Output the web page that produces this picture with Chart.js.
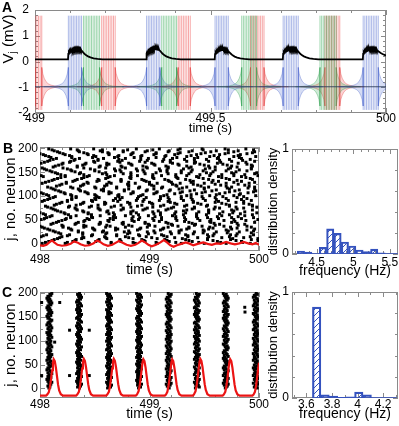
<!DOCTYPE html>
<html>
<head>
<meta charset="utf-8">
<script src="https://cdn.jsdelivr.net/npm/chart.js@4.4.1/dist/chart.umd.min.js"></script>
<style>
body { margin: 0; background: #fff; }
#fig { position: relative; width: 399px; height: 426px; overflow: hidden; font-family: 'Liberation Sans', Arial, sans-serif; }
#fig canvas { position: absolute; }
.lbl { position: absolute; font-weight: bold; font-size: 14px; }
</style>
</head>
<body>
<div id="fig">
  <canvas id="cA" width="399" height="136" style="left:0;top:0"></canvas>
  <canvas id="cB" width="272" height="144" style="left:0;top:136px"></canvas>
  <canvas id="cBh" width="137" height="144" style="left:262px;top:136px"></canvas>
  <canvas id="cC" width="272" height="148" style="left:0;top:278px"></canvas>
  <canvas id="cCh" width="137" height="148" style="left:262px;top:278px"></canvas>
  <div class="lbl" style="left:2px;top:-1px">A</div>
  <div class="lbl" style="left:3px;top:140px">B</div>
  <div class="lbl" style="left:2px;top:284px">C</div>
</div>
<script>
// ---------- panel A: voltage traces, times in ms after 499 s ----------
const ticksAx = [499, 499.5, 500];
const ticksAy = [-2, -1, 0, 1, 2];
const spikeLow = -1.88, spikeHigh = 1.78, restLevel = -0.98;

const blueSpikes = [
  [95, 99.7, 104.4, 109.1, 113.8, 118.5, 123.2, 127.9, 132.6],
  [318, 322.7, 327.4, 332.1, 336.8, 341.5, 346.2, 350.9, 355.6],
  [513, 517.7, 522.4, 527.1, 531.8, 536.5, 541.2, 545.9, 550.6],
  [707, 711.8, 716.6, 721.4, 726.2, 731, 735.8, 740.6, 745.4, 750],
  [935, 939.8, 944.6, 949.4, 954.2, 959, 963.8, 968.6, 973.4, 978]
];
const greenSpikes = [
  [138, 142.6, 147.2, 151.8, 156.4, 161, 165.6, 170.2, 174.8, 179.4, 184],
  [361, 365.7, 370.4, 375.1, 379.8, 384.5, 389.2, 393.9, 398.6, 403.3],
  [589, 593.7, 598.4, 603.1, 607.8, 612.5, 617.2, 621.9, 626.6, 631.3],
  [812, 816.6, 821.2, 825.8, 830.4, 835, 839.6, 844.2, 848.8, 853.4, 858]
];
const redSpikes = [
  [0.5, 5.2, 9.9, 14.6, 19.3],
  [190, 194.8, 199.6, 204.4, 209.2, 214, 218.8, 223.6, 228.4],
  [408, 412.9, 417.8, 422.7, 427.6, 432.5, 437.4, 442.3],
  [614, 618.8, 623.6, 628.4, 633.2, 638, 642.8, 647.6, 652.4],
  [826, 830.7, 835.4, 840.1, 844.8, 849.5, 854.2, 858.9, 863.6, 868.3]
];
// envelope of the sub-threshold ringing next to a burst: distance (ms) from the burst edge, half amplitude (mV)
const lobeDist = [0, 3, 7, 12, 18, 26, 36, 50, 70];
const lobeAmp = [0.75, 0.5, 0.33, 0.2, 0.12, 0.065, 0.032, 0.013, 0.004];

const blackTrace = [
  [0,0.08],[94,0.08],[95,0.3],[96.5,0.37],[98,0.34],[99.5,0.41],[101,0.37],[102.5,0.44],[104,0.4],[105.5,0.47],[107,0.42],[108.5,0.49],[110,0.44],[111.5,0.51],[113,0.45],[114.5,0.52],[116,0.46],[117.5,0.52],[119,0.46],[120.5,0.52],[122,0.46],[123.5,0.52],[125,0.46],[126.5,0.51],[128,0.45],[129.5,0.5],[131,0.44],[133,0.42],[136,0.37],[140,0.31],[145,0.25],[151,0.2],[158,0.16],[167,0.125],[178,0.1],[192,0.085],[212,0.08],
  [317,0.08],[318,0.31],[319.5,0.37],[321,0.35],[322.5,0.42],[324,0.38],[325.5,0.45],[327,0.41],[328.5,0.48],[330,0.43],[331.5,0.5],[333,0.45],[334.5,0.52],[336,0.46],[337.5,0.53],[339,0.47],[340.5,0.53],[342,0.47],[343.5,0.53],[345,0.47],[346.5,0.52],[348,0.46],[349.5,0.51],[351,0.45],[352.5,0.5],[354,0.44],[356,0.42],[359,0.37],[363,0.31],[368,0.25],[374,0.2],[381,0.16],[390,0.125],[401,0.1],[415,0.085],[435,0.08],
  [512,0.08],[513,0.29],[514.5,0.36],[516,0.33],[517.5,0.4],[519,0.36],[520.5,0.43],[522,0.39],[523.5,0.46],[525,0.41],[526.5,0.48],[528,0.43],[529.5,0.5],[531,0.44],[532.5,0.5],[534,0.45],[535.5,0.51],[537,0.45],[538.5,0.5],[540,0.44],[541.5,0.5],[543,0.44],[544.5,0.49],[546,0.43],[547.5,0.48],[549,0.42],[551,0.4],[554,0.35],[558,0.3],[563,0.24],[569,0.19],[576,0.15],[585,0.12],[596,0.1],[610,0.085],[630,0.08],
  [706,0.08],[707,0.3],[708.5,0.37],[710,0.34],[711.5,0.41],[713,0.37],[714.5,0.44],[716,0.4],[717.5,0.47],[719,0.42],[720.5,0.49],[722,0.44],[723.5,0.51],[725,0.45],[726.5,0.52],[728,0.46],[729.5,0.52],[731,0.46],[732.5,0.52],[734,0.46],[735.5,0.52],[737,0.46],[738.5,0.52],[740,0.46],[741.5,0.51],[743,0.45],[744.5,0.5],[746,0.44],[748,0.42],[751,0.37],[755,0.31],[760,0.25],[766,0.2],[773,0.16],[782,0.125],[793,0.1],[807,0.085],[827,0.08],
  [934,0.08],[935,0.3],[936.5,0.37],[938,0.34],[939.5,0.41],[941,0.37],[942.5,0.44],[944,0.4],[945.5,0.47],[947,0.42],[948.5,0.49],[950,0.44],[951.5,0.51],[953,0.45],[954.5,0.52],[956,0.46],[957.5,0.52],[959,0.46],[960.5,0.52],[962,0.46],[963.5,0.52],[965,0.46],[966.5,0.52],[968,0.46],[969.5,0.51],[971,0.45],[972.5,0.5],[974,0.44],[976,0.42],[980,0.38],[985,0.33],[990,0.29],[1000,0.23]
];
const restTrace = [[0, restLevel], [1000, restLevel]];

// ---------- panel B: asynchronous state ----------
const ticksRasterX = [498, 499, 500];
const ticksRasterY = [0, 50, 100, 150, 200];
// spike times per neuron row (units of 10 ms after 498 s), rows are neurons 1, 3, 5, ...
const rasterB = [
  [2,23,45,65,87,107,129,150,170,192],[5,25,44,65,85,106,124,145,165,185],[8,30,51,74,96,118,139,162,184],[11,32,53,73,95,116,136,158,179,199],
  [13,33,54,73,93,114,133,153,174,193],[16,38,61,85,107,130,153,176,199],[18,40,60,81,102,123,144,166,186],[1,20,39,59,78,97,116,135,154,173,192],
  [3,25,47,70,91,113,135,158,179],[6,27,48,70,90,111,133,153,174,195],[19,39,60,80,99,120,140,159,180],[17,39,61,82,105,127,149,171,193],
  [14,35,57,77,98,119,141,161,182],[12,35,58,81,104,127,150,172,195],[9,29,50,69,89,110,129,149,170,189],[7,28,49,71,91,112,134,154,175,196],
  [4,26,48,69,92,113,136,158,180],[2,21,40,60,78,98,117,136,155,174,193],[0,21,42,64,84,105,126,148,168,189],[20,40,61,81,100,121,141,160,181],
  [10,32,54,76,99,120,142,164,187],[12,33,55,75,96,117,139,159,180],[15,35,55,76,96,115,136,156,175,196],[17,40,63,86,109,132,155,178],
  [20,41,62,84,104,125,146,168,188],[1,23,45,67,90,111,133,156,177,199],[4,24,43,64,84,103,124,144,163,184],[6,28,48,69,91,111,132,153,175,195],
  [9,28,47,67,85,105,124,143,162,181],[11,33,55,78,99,121,143,166,187],[5,26,47,68,90,110,131,152,173,194],[3,23,44,63,83,104,123,143,164,183],
  [0,22,44,67,88,110,133,154,176,198],[19,40,61,83,103,124,145,167,187],[16,39,62,85,108,131,154,177],[14,34,55,74,94,115,134,154,175,194],
  [12,33,54,76,96,117,139,159,180],[10,32,53,76,98,120,141,164,186],[7,26,45,65,83,103,122,141,160,179,198],[5,27,47,68,89,110,132,152,173,194],
  [13,33,53,74,93,113,134,153,173,194],[15,37,59,82,103,125,147,170,191],[18,39,60,82,102,123,144,166,186],[20,40,59,80,100,119,140,160,179],
  [2,25,48,71,94,117,140,163,186],[4,25,47,67,88,109,131,151,172,193],[7,29,51,73,95,118,139,161,184],[9,29,50,69,89,110,129,149,170,189],
  [12,33,54,75,97,117,138,160,180],[14,33,52,72,90,110,129,148,167,186],[8,29,51,71,92,113,134,155,177,197],[6,28,50,72,94,116,138,161,182],
  [3,23,44,63,83,104,123,143,164,183],[1,22,43,65,85,106,128,148,169,190],[19,41,63,85,107,130,151,173,195],[17,37,58,77,97,118,137,157,178,197],
  [14,36,56,77,98,119,141,161,182],[12,35,58,81,104,127,150,173,196],[10,30,51,70,90,111,130,150,171,190],[7,28,50,70,91,112,134,154,175,196],
  [15,37,59,81,104,125,147,170,191],[18,39,61,81,102,124,144,165,187],[20,40,61,80,100,121,140,160,181],[2,24,44,65,87,107,128,150,170,191],
  [5,24,43,63,81,100,120,138,157,177,196],[8,30,52,74,97,118,140,163,184],[11,32,54,74,95,117,137,158,180],[13,34,53,74,93,114,133,154,173,194],
  [16,38,60,83,104,126,149,170,192],[19,40,62,82,103,125,145,166,188],[3,23,43,64,83,103,124,143,163,184],[1,23,45,68,89,111,134,155,177,199],
  [19,40,61,83,103,124,146,166,187],[16,36,57,76,96,117,136,156,177,196],[14,37,60,83,106,129,152,175,198],[11,32,54,74,95,116,138,158,179],
  [9,29,50,69,89,110,129,149,170,189],[6,28,50,73,94,116,139,160,182],[4,25,46,68,88,109,131,151,172,193],[2,21,40,60,78,98,117,136,155,174,193],
  [12,34,54,75,97,117,138,160,180],[14,34,55,74,94,115,134,154,175,194],[17,39,61,84,105,127,150,171,193],[20,41,63,83,104,126,146,167,189],
  [1,21,42,61,81,102,121,141,162,181],[4,27,50,73,96,119,142,165,188],[7,28,49,71,91,112,134,154,175,196],[9,31,53,75,98,119,141,164,185],
  [12,32,53,72,92,113,132,152,173,192],[15,36,58,78,99,121,141,162,184],[10,29,48,68,86,106,125,144,163,182],[8,29,51,71,92,114,134,155,177,197],
  [5,27,49,72,93,115,138,159,181],[3,23,44,63,83,104,123,143,164,183],[0,21,43,63,84,106,126,147,169,189],[18,40,62,85,106,128,151,172,194],
  [16,36,57,76,96,117,136,156,177,196],[13,35,55,76,98,118,139,161,181],[11,34,57,80,103,126,149,172,195],[8,28,49,68,88,109,128,148,169,188]
];
const activityB = [
  [498,-3],[498.03,-4],[498.06,-2],[498.09,4],[498.11,7],[498.13,3],[498.16,-2],[498.2,-4],[498.24,-3],[498.28,0],[498.31,5],[498.34,3],
  [498.37,-1],[498.41,-4],[498.45,-3],[498.49,1],[498.52,7],[498.55,4],[498.58,-1],[498.62,-4],[498.66,-2],[498.69,2],[498.72,6],[498.75,3],
  [498.79,-2],[498.83,-4],[498.87,-2],[498.9,2],[498.93,7],[498.96,3],[498.99,-2],[499.02,-5],[499.06,-2],[499.1,3],[499.13,8],[499.16,3],
  [499.19,-3],[499.22,-6],[499.25,-3],[499.29,0],[499.33,3],[499.36,1],[499.4,-3],[499.44,0],[499.49,3],[499.53,0],[499.57,-2],[499.61,1],
  [499.65,0],[499.7,4],[499.74,1],[499.78,-1],[499.82,1],[499.86,4],[499.9,1],[499.94,-1],[499.97,2],[500,-2]
];
const histBCenters = [4.285,4.385,4.485,4.585,4.685,4.785,4.885,4.985,5.085,5.185,5.285,5.385,5.485,5.585];
const histBDensity = [0.028,0.019,0,0.063,0.24,0.196,0.114,0.076,0.038,0.022,0.047,0.01,0,0];
const ticksHistBx = [4.5, 5, 5.5];
const ticksHistY = [0, 1];

// ---------- panel C: synchronous state ----------
// burst onsets (s) and, per burst, one digit per neuron row = spike delay in 9 ms steps
const burstStartsC = [498.045, 498.316, 498.59, 498.864, 499.135, 499.392, 499.656, 499.93];
const burstDelaysC = [
  '4535647352 4635473652 4356473562 4536475346 2537463526 4537463524 6537462534 6753426357 4635243657 4635243657',
  '5364735246 3574625346 5374635246 3547365243 6547352463 5746352436 5473625437 6452364753 4625347365 2436574635',
  '3647352465 3746253647 5362453746 3524637546 2354736452 4637542635 4736524357 4635247365 3426547365 2453746352',
  '4653743526 4375364253 7463524637 5426354736 4526374635 2463754362 5374635247 3652436574 6352463754 3625473652',
  '5436274536 4725346375 2463547362 5437462536 4736254637 5246357436 2547365243 6574635246 3754362547 3652436574',
  '3746352647 3546273645 3726453746 2536475326 4735462537 4635274636 5247365423 6574635246 3754236547 3625436574',
  '4563724635 7462534673 5243657463 5247365243 6574632546 3754263547 3625436574 6352463754 2635473652 4365746352',
  '6354726453 7462536473 5246375462 5347362546 3754625347 3625463754 6235473652 4365746325 4637542635 4736524365'
];
const strayC = [[498.015,180],[498.18,180],[498.27,122],[498.45,122],[498.015,27],[498.27,27],[498.45,27],[498.134,97],[499.87,170],[499.872,160]];
const activityC = [
  [498,-15],[498.055,-15],
  [498.065,-13],[498.08,-8],[498.09,2],[498.1,18],[498.11,38],[498.118,54],[498.125,61],[498.135,57],[498.145,44],[498.155,26],[498.165,8],[498.175,-4],[498.19,-12],[498.21,-15],
  [498.33,-15],[498.34,-13],[498.355,-7],[498.365,4],[498.375,22],[498.385,42],[498.392,56],[498.4,62],[498.41,58],[498.42,45],[498.43,27],[498.44,9],[498.45,-3],[498.465,-12],[498.485,-15],
  [498.604,-15],[498.614,-13],[498.629,-7],[498.639,4],[498.649,22],[498.659,42],[498.666,56],[498.674,62],[498.684,58],[498.694,45],[498.704,27],[498.714,9],[498.724,-3],[498.739,-12],[498.759,-15],
  [498.875,-15],[498.885,-13],[498.9,-6],[498.91,5],[498.92,23],[498.93,43],[498.937,56],[498.944,61],[498.954,57],[498.964,44],[498.974,26],[498.984,8],[498.994,-4],[499.009,-12],[499.03,-15],
  [499.14,-15],[499.15,-13],[499.163,-7],[499.173,4],[499.183,21],[499.193,41],[499.2,55],[499.207,61],[499.217,57],[499.227,44],[499.237,27],[499.247,9],[499.257,-3],[499.272,-12],[499.292,-15],
  [499.395,-15],[499.405,-13],[499.42,-6],[499.43,5],[499.44,23],[499.45,43],[499.457,56],[499.464,62],[499.474,58],[499.484,45],[499.494,27],[499.504,9],[499.514,-3],[499.529,-12],[499.55,-15],
  [499.668,-15],[499.678,-13],[499.692,-7],[499.702,4],[499.712,22],[499.722,42],[499.729,55],[499.737,61],[499.747,57],[499.757,44],[499.767,26],[499.777,8],[499.787,-4],[499.802,-12],[499.822,-15],
  [499.94,-15],[499.95,-13],[499.963,-7],[499.973,5],[499.983,23],[499.993,43],[500,54]
];
const histCCenters = [3.68,3.746,3.812,3.878,3.944,4.01,4.076,4.142,4.208,4.274];
const histCDensity = [0.858,0.03,0.018,0.006,0.012,0.055,0.03,0,0,0];
const ticksHistCx = [3.6, 3.8, 4, 4.2];

// ---------- helpers ----------
const FONT = "'Liberation Sans', Arial, Helvetica, sans-serif";
Chart.defaults.font.family = FONT;
Chart.defaults.font.size = 12;
Chart.defaults.color = '#000';
Chart.defaults.animation = false;
const FRAME = '#8a8a8a';
const BLUE = 'rgb(52,82,190)';

function axis(min, max, labels, o) {
  return {
    type: 'linear', min: min, max: max, offset: false,
    grid: { display: false, drawTicks: false },
    border: { display: false },
    afterBuildTicks: s => { s.ticks = labels.map(v => ({ value: v })); },
    ticks: { autoSkip: false, maxRotation: 0, padding: o.pad, callback: v => String(v) },
    title: o.title ? { display: true, text: o.title, font: { size: o.tsize }, padding: o.tpad } : { display: false },
    afterFit: s => {
      if (o.w != null) s.width = o.w;
      if (o.h != null) s.height = o.h;
      s.paddingLeft = s.paddingRight = s.paddingTop = s.paddingBottom = 0;
    }
  };
}

// box frame with small inward ticks on all four sides
function frame(x0, xs, y0, ys, xMajor, yMajor, extra) {
  return {
    id: 'frame',
    beforeDatasetsDraw(chart) {
      const { ctx, chartArea: a, scales: { x, y } } = chart;
      ctx.save();
      ctx.strokeStyle = FRAME;
      ctx.lineWidth = 1;
      ctx.strokeRect(Math.round(a.left) + 0.5, Math.round(a.top) + 0.5, Math.round(a.width) - 1, Math.round(a.height) - 1);
      ctx.beginPath();
      for (let i = 0; ; i++) {
        const v = x0 + i * xs;
        if (v > x.max + 1e-9) break;
        if (v < x.min - 1e-9) continue;
        const p = Math.round(x.getPixelForValue(v)) + 0.5;
        const L = xMajor.some(m => Math.abs(m - v) < 1e-6) ? 5 : 3;
        ctx.moveTo(p, a.bottom); ctx.lineTo(p, a.bottom - L);
        ctx.moveTo(p, a.top); ctx.lineTo(p, a.top + L);
      }
      for (let i = 0; ; i++) {
        const v = y0 + i * ys;
        if (v > y.max + 1e-9) break;
        if (v < y.min - 1e-9) continue;
        const p = Math.round(y.getPixelForValue(v)) + 0.5;
        const L = yMajor.some(m => Math.abs(m - v) < 1e-6) ? 5 : 3;
        ctx.moveTo(a.left, p); ctx.lineTo(a.left + L, p);
        ctx.moveTo(a.right, p); ctx.lineTo(a.right - L, p);
      }
      ctx.stroke();
      ctx.restore();
    },
    afterDraw(chart) { if (extra) extra(chart.ctx); }
  };
}

function hatch(color) {
  const c = document.createElement('canvas');
  c.width = 6; c.height = 6;
  const g = c.getContext('2d');
  g.strokeStyle = color; g.lineWidth = 1;
  g.beginPath();
  g.moveTo(0, 6); g.lineTo(6, 0);
  g.moveTo(-1, 1); g.lineTo(1, -1);
  g.moveTo(5, 7); g.lineTo(7, 5);
  g.stroke();
  return g.createPattern(c, 'repeat');
}

const msToS = ms => 499 + ms / 1000;

// ---------- panel A ----------
function spikeLines(trains) {
  const d = [];
  trains.forEach(tr => tr.forEach(t => {
    d.push({ x: msToS(t), y: spikeLow }, { x: msToS(t), y: spikeHigh }, { x: msToS(t), y: null });
  }));
  return d;
}
function lobe(edge, dir) {
  const up = [], lo = [];
  lobeDist.forEach((dd, i) => {
    up.push({ x: msToS(edge + dir * dd), y: restLevel + lobeAmp[i] });
    lo.push({ x: msToS(edge + dir * dd), y: restLevel - lobeAmp[i] });
  });
  return up.reverse().concat(lo);
}
const colorsA = [
  { trains: blueSpikes, line: 'rgba(70,100,205,0.45)', fill: 'rgba(70,100,205,0.22)', edge: 'rgba(60,90,200,0.55)' },
  { trains: greenSpikes, line: 'rgba(40,165,75,0.45)', fill: 'rgba(40,165,75,0.22)', edge: 'rgba(30,150,65,0.55)' },
  { trains: redSpikes, line: 'rgba(235,60,60,0.45)', fill: 'rgba(235,60,60,0.22)', edge: 'rgba(225,45,45,0.55)' }
];
const dsA = [];
dsA.push({ data: blackTrace.map(p => ({ x: msToS(p[0]), y: p[1] })), borderColor: '#000', borderWidth: 1.8, order: 0 });
dsA.push({ data: restTrace.map(p => ({ x: msToS(p[0]), y: p[1] })), borderColor: 'rgba(40,55,85,0.85)', borderWidth: 1.2, order: 1 });
colorsA.forEach(c => {
  dsA.push({ data: spikeLines(c.trains), borderColor: c.line, borderWidth: 1, order: 2 });
  c.trains.forEach(tr => {
    [lobe(tr[0], -1), lobe(tr[tr.length - 1], 1)].forEach(pts => {
      dsA.push({ data: pts, borderColor: c.edge, borderWidth: 0.6, backgroundColor: c.fill, fill: 'shape', order: 3 });
    });
  });
});

function drawVjTitle(ctx) {
  ctx.save();
  ctx.translate(9, 39);
  ctx.rotate(-Math.PI / 2);
  ctx.fillStyle = '#000';
  ctx.textBaseline = 'middle';
  ctx.font = '15px ' + FONT;
  const w1 = ctx.measureText('V').width, w3 = ctx.measureText(' (mV)').width;
  ctx.font = '10px ' + FONT;
  const w2 = ctx.measureText('j').width;
  let x = -(w1 + w2 + w3) / 2;
  ctx.font = '15px ' + FONT; ctx.fillText('V', x, 0); x += w1;
  ctx.font = '10px ' + FONT; ctx.fillText('j', x, 4); x += w2;
  ctx.font = '15px ' + FONT; ctx.fillText(' (mV)', x, 0);
  ctx.restore();
}

new Chart(document.getElementById('cA'), {
  type: 'line',
  data: { datasets: dsA },
  options: {
    responsive: false, devicePixelRatio: 1,
    layout: { padding: { top: 10, right: 13, left: 0, bottom: 0 } },
    elements: { point: { radius: 0 }, line: { tension: 0 } },
    plugins: { legend: { display: false }, tooltip: { enabled: false } },
    scales: {
      x: axis(499, 500, ticksAx, { pad: -2, h: 23, title: 'time (s)', tsize: 13, tpad: 0 }),
      y: axis(-2, 2, ticksAy, { pad: 6, w: 35 })
    }
  },
  plugins: [frame(499, 0.1, -2, 0.2, ticksAx, ticksAy, drawVjTitle)]
});

// ---------- raster panels ----------
function rasterChart(id, dots, activity, yMin, yMax, padTop, xh, labPad, titlePad) {
  new Chart(document.getElementById(id), {
    type: 'scatter',
    data: {
      datasets: [
        { type: 'line', data: activity.map(p => ({ x: p[0], y: p[1] })), borderColor: 'rgb(235,20,20)', borderWidth: 2.2, pointRadius: 0, clip: 0, order: 0 },
        { data: dots, pointStyle: 'rect', pointRadius: 2.1, pointBorderWidth: 0, pointBackgroundColor: '#000', backgroundColor: '#000', clip: 0, order: 1 }
      ]
    },
    options: {
      responsive: false, devicePixelRatio: 1,
      layout: { padding: { top: padTop, right: 13, left: 0, bottom: 0 } },
      plugins: { legend: { display: false }, tooltip: { enabled: false } },
      scales: {
        x: axis(498, 500, ticksRasterX, { pad: labPad, h: xh, title: 'time (s)', tsize: 14, tpad: titlePad }),
        y: axis(yMin, yMax, ticksRasterY, { pad: 2, w: 40, title: 'j, no. neuron', tsize: 15, tpad: { top: 2, bottom: 0 } })
      }
    },
    plugins: [frame(498, 0.2, 0, 25, ticksRasterX, ticksRasterY)]
  });
}

const dotsB = [];
rasterB.forEach((row, i) => row.forEach(v => dotsB.push({ x: 498 + v * 0.01, y: i * 2 + 1 })));
rasterChart('cB', dotsB, activityB, -15, 203, 11, 29, 1, 1);

const dotsC = [];
burstDelaysC.forEach((s, b) => {
  s.replace(/ /g, '').split('').forEach((d, i) => dotsC.push({ x: burstStartsC[b] + Number(d) * 0.009, y: i * 2 + 1 }));
});
strayC.forEach(p => dotsC.push({ x: p[0], y: p[1] }));
rasterChart('cC', dotsC, activityC, -20, 202, 14, 28, -1, 3);

// ---------- histograms ----------
function histChart(id, centers, dens, xMin, xMax, xTicks, padTop, xh, labPad, titlePad) {
  const w = centers[1] - centers[0];
  const base = [{ x: centers[0] - w / 2, y: 0 }, { x: centers[centers.length - 1] + w / 2, y: 0 }];
  new Chart(document.getElementById(id), {
    type: 'bar',
    data: {
      datasets: [
        { type: 'line', data: base, borderColor: BLUE, borderWidth: 1.5, pointRadius: 0, order: 0 },
        { type: 'bar', data: centers.map((c, i) => ({ x: c, y: dens[i] })), backgroundColor: hatch(BLUE), borderColor: BLUE,
          borderWidth: 1.5, borderSkipped: 'start', barPercentage: 1, categoryPercentage: 1, grouped: false, order: 1 }
      ]
    },
    options: {
      responsive: false, devicePixelRatio: 1,
      layout: { padding: { top: padTop, right: 1, left: 0, bottom: 0 } },
      plugins: { legend: { display: false }, tooltip: { enabled: false } },
      scales: {
        x: axis(xMin, xMax, xTicks, { pad: labPad, h: xh, title: 'frequency (Hz)', tsize: 14, tpad: titlePad }),
        y: axis(0, 1, ticksHistY, { pad: 3, w: 30, title: 'distribution density', tsize: 13, tpad: { top: 4, bottom: 0 } })
      }
    },
    plugins: [frame(Math.ceil(xMin * 10) / 10, 0.1, 0, 0.2, xTicks, ticksHistY)]
  });
}
histChart('cBh', histBCenters, histBDensity, 4.163, 5.61, ticksHistBx, 13, 26, 1, 0);
histChart('cCh', histCCenters, histCDensity, 3.487, 4.317, ticksHistCx, 14, 28, -1, 3);
</script>
</body>
</html>
